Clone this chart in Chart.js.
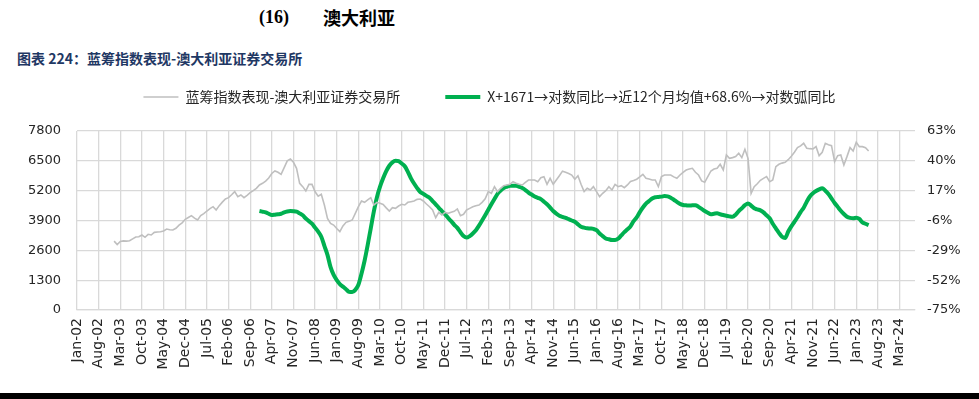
<!DOCTYPE html>
<html><head><meta charset="utf-8">
<script src="https://cdn.jsdelivr.net/npm/chart.js@4.4.1/dist/chart.umd.min.js"></script>
<style>
html,body{margin:0;padding:0;background:#fff;width:979px;height:399px;overflow:hidden;position:relative;}
#c{position:absolute;left:0;top:0;}
.hd{position:absolute;white-space:nowrap;font-weight:bold;color:#000;font-size:18px;line-height:24px;}
#h1{left:259px;top:5px;font-family:"Liberation Serif","Noto Sans CJK SC";}
#h2{left:323px;top:5px;font-family:"Noto Sans CJK SC";}
#t{position:absolute;left:17px;top:48px;white-space:nowrap;font:bold 14px/20px "Noto Sans CJK SC";color:#1f3864;}
#bar{position:absolute;left:0;top:393px;width:979px;height:6px;background:#000;}
</style></head>
<body>
<div class="hd" id="h1">(16)</div>
<div class="hd" id="h2">澳大利亚</div>
<div id="t">图表 224：蓝筹指数表现-澳大利亚证券交易所</div>
<canvas id="c" width="979" height="399"></canvas>
<div id="bar"></div>
<script>
// Axis categories: monthly from Jan-02 to Aug-24
const monthNames = ['Jan','Feb','Mar','Apr','May','Jun','Jul','Aug','Sep','Oct','Nov','Dec'];
const categories = [];
for (let i = 0; i < 272; i++) {
  const y = 2 + Math.floor(i / 12);
  categories.push(monthNames[i % 12] + '-' + String(y).padStart(2, '0'));
}
// Tick labels shown every 7 months
const tickLabels = ['Jan-02','Aug-02','Mar-03','Oct-03','May-04','Dec-04','Jul-05','Feb-06','Sep-06','Apr-07','Nov-07','Jun-08','Jan-09','Aug-09','Mar-10','Oct-10','May-11','Dec-11','Jul-12','Feb-13','Sep-13','Apr-14','Nov-14','Jun-15','Jan-16','Aug-16','Mar-17','Oct-17','May-18','Dec-18','Jul-19','Feb-20','Sep-20','Apr-21','Nov-21','Jun-22','Jan-23','Aug-23','Mar-24'];
const leftTicks = [0,1300,2600,3900,5200,6500,7800];
const rightTicks = [-75,-52,-29,-6,17,40,63];

// Series 1: index level, monthly from Jan-03 (category index 12)
const indexStart = 12;
const indexValues = [
3000,2850,2990,3010,3000,3020,3100,3180,3190,3268,
3167,3297,3268,3384,3400,3413,3443,3530,3500,3486,
3559,3700,3800,3951,4030,4111,4000,3922,4111,4200,
4314,4420,4503,4358,4547,4700,4837,4895,5020,5157,
4939,5012,4895,5000,5113,5200,5302,5450,5520,5620,
5750,5950,6058,6000,5912,6203,6500,6580,6435,6174,
5520,5375,5186,5476,5476,5150,4960,5041,4576,3995,
3777,3700,3550,3413,3661,3820,3870,3922,4213,4503,
4750,4692,4794,4895,4576,4692,4650,4600,4450,4314,
4460,4430,4532,4605,4576,4692,4720,4750,4820,4837,
4750,4620,4500,4358,4023,4256,4140,4256,4213,4256,
4300,4402,4111,4170,4358,4430,4500,4547,4576,4692,
4850,5157,5085,5375,5157,5302,5418,5450,5476,5592,
5520,5476,5447,5563,5665,5665,5665,5592,5766,5810,
5476,5737,5476,5665,5853,6050,6000,5950,5880,5700,
5853,5476,5157,5302,5230,5375,5157,4939,5085,5200,
5375,5230,5476,5375,5418,5330,5450,5600,5640,5700,
5800,5912,5737,5708,5665,5665,5375,5810,5882,5882,
5882,5800,5737,5882,6000,6101,6140,6174,6000,5882,
5622,5563,5810,6058,6145,6174,6348,6101,6755,6610,
6640,6683,6828,6640,7003,6610,5084,5375,5500,5650,
5737,5810,5592,5665,6247,6348,6400,6435,6550,6700,
6872,7075,7150,7264,7047,7030,7018,7119,6726,6872,
7264,7200,7163,6465,6726,6755,6319,6683,7075,6930,
7308,7119,7119,7075,6930
];

// Series 2: transformed growth (%), monthly from Dec-06 (category index 59)
const growthStart = 59;
const growthValues = [
1.3,0.8,0.3,-0.8,-1.8,-1.5,-1.2,-0.8,0.3,1.0,
1.3,1.2,0.8,-0.5,-2,-4.5,-6.5,-8.5,-11.5,-14.6,
-18.5,-25.5,-32.5,-42,-48,-52,-55,-57,-59,-61,
-61.2,-59.5,-55.5,-47,-37,-25,-12,1,12,20.1,
26.5,32,36.2,38.8,40,39.7,38,35.8,31.5,26.5,
22.5,19,16,14.5,13,11.5,9,6.5,3.8,1.3,
-1.2,-4,-6.5,-9.3,-11.7,-15,-18,-19.2,-18,-16,
-13.5,-10,-6,-2,2.3,6.5,10.5,14.5,17,19,
20,20.7,20.8,20.8,20,19,17.5,15.5,14,12.5,
11.5,10.5,8.5,6.5,4,1.3,-0.7,-2.3,-3.2,-4,
-5,-6,-7,-9,-10.8,-11.5,-12,-12.2,-12.5,-13.5,
-16,-18,-19.8,-20.5,-21,-21,-20,-17.5,-15,-12.8,
-10.5,-6.5,-3.5,0.5,4,7,9,11,11.9,12.2,
12.4,12.8,12.6,11.6,10,8.3,6.8,6,5.7,5.5,
5.7,5.8,4.5,3,1.3,0,-1.1,-0.8,-0.5,-1.2,
-1.8,-2.3,-2.8,-3.1,-1.5,1.3,3.5,5.8,7.2,5.5,
3.4,2.5,1.8,0.3,-2,-4.3,-8.5,-12,-15.5,-18.5,
-19.5,-14.5,-10.5,-7,-3.5,0.5,3.9,8.5,12.5,15,
16.7,18,18.8,17,14.5,11,7.5,4.5,1.5,-1,
-3.1,-4,-4.3,-3.9,-4.8,-7.5,-8.5,-9.5
];

function place(start, values) {
  const arr = new Array(categories.length).fill(null);
  values.forEach((v, i) => { arr[start + i] = v; });
  return arr;
}

const GRID = '#d9d9d9';
const TXT = '#262626';
const tickFont = {family: '"DejaVu Sans"', size: 13};

const legendSpacer = {
  id: 'legendSpacer',
  beforeInit(chart) {
    const orig = chart.legend.fit;
    chart.legend.fit = function () { orig.call(this); this.height += 17; };
  }
};

new Chart(document.getElementById('c'), {
  type: 'line',
  data: {
    labels: categories,
    datasets: [
      {label: '蓝筹指数表现-澳大利亚证券交易所', data: place(indexStart, indexValues), borderColor: '#bfbfbf', backgroundColor: '#bfbfbf', borderWidth: 1.6, pointRadius: 0, tension: 0, yAxisID: 'y'},
      {label: 'X+1671→对数同比→近12个月均值+68.6%→对数弧同比', data: place(growthStart, growthValues), borderColor: '#00b050', backgroundColor: '#00b050', borderWidth: 4, pointRadius: 0, cubicInterpolationMode: 'monotone', yAxisID: 'y1'}
    ]
  },
  options: {
    responsive: false,
    animation: false,
    layout: {padding: {top: 45, left: 0, right: 0, bottom: 0}},
    plugins: {
      tooltip: {enabled: false},
      legend: {
        position: 'top',
        labels: {usePointStyle: true, pointStyle: 'line', pointStyleWidth: 35, padding: 45, color: TXT, font: {family: '"Noto Sans CJK SC"', size: 14}}
      }
    },
    scales: {
      x: {
        type: 'category',
        offset: false,
        grid: {color: c => (c.index % 7 === 0 ? GRID : 'rgba(0,0,0,0)'), lineWidth: 1.3, drawTicks: false},
        border: {color: GRID, width: 1.3},
        ticks: {autoSkip: false, minRotation: 90, maxRotation: 90, padding: 8, color: TXT, font: {family: '"DejaVu Sans"', size: 14},
          callback: (v, i) => (i % 7 === 0 ? tickLabels[i / 7] : '')},
        afterFit: s => { s.height = 89; }
      },
      y: {
        position: 'left', min: leftTicks[0], max: leftTicks[leftTicks.length - 1],
        afterBuildTicks: s => { s.ticks = leftTicks.map(v => ({value: v})); },
        ticks: {padding: 16, color: TXT, font: tickFont, callback: v => String(v)},
        grid: {color: GRID, lineWidth: 1.3, drawTicks: false},
        border: {display: false},
        afterFit: s => { s.width = 77; }
      },
      y1: {
        position: 'right', min: rightTicks[0], max: rightTicks[rightTicks.length - 1],
        afterBuildTicks: s => { s.ticks = rightTicks.map(v => ({value: v})); },
        ticks: {padding: 12, color: TXT, font: tickFont, callback: v => v + '%'},
        grid: {display: false, drawTicks: false},
        border: {display: false},
        afterFit: s => { s.width = 64; }
      }
    }
  },
  plugins: [legendSpacer]
});
</script>
</body></html>
